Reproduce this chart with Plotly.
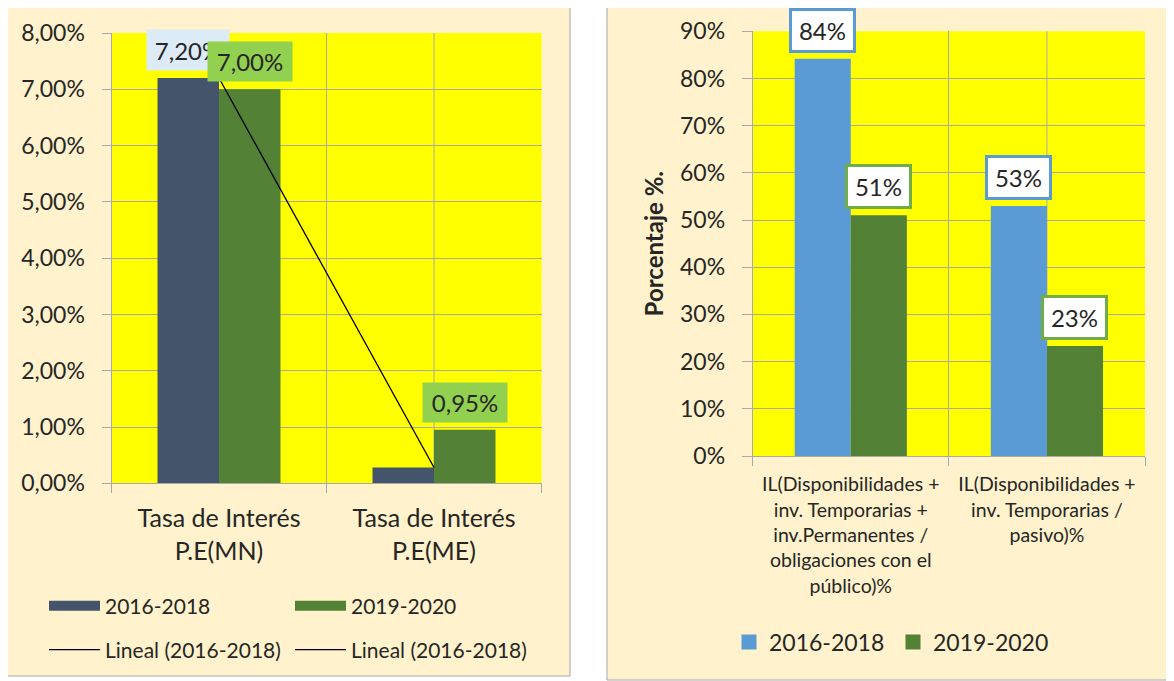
import plotly.graph_objects as go

# ---------------- Data ----------------
# Left chart
left_categories = ["Tasa de Interés<br>P.E(MN)", "Tasa de Interés<br>P.E(ME)"]
left_series_names = ["2016-2018", "2019-2020"]
left_2016_2018 = [0.0720, 0.0028]
left_2019_2020 = [0.0700, 0.0095]
trend_name = "Lineal (2016-2018)"
left_yticks = [0.00, 0.01, 0.02, 0.03, 0.04, 0.05, 0.06, 0.07, 0.08]

# Right chart
right_categories = [
    "IL(Disponibilidades +<br>inv. Temporarias +<br>inv.Permanentes /<br>obligaciones con el<br>público)%",
    "IL(Disponibilidades +<br>inv. Temporarias /<br>pasivo)%",
]
right_series_names = ["2016-2018", "2019-2020"]
right_2016_2018 = [0.842, 0.530]
right_2019_2020 = [0.510, 0.233]
right_yticks = [0.0, 0.1, 0.2, 0.3, 0.4, 0.5, 0.6, 0.7, 0.8, 0.9]
right_ytitle = "Porcentaje %."

# ---------------- Style ----------------
# page body has an 8px margin: the figure is drawn 8px in and sized to fit
OFF = 8
W, H = 1174 - OFF, 681 - OFF
FONT = "Lato, Carlito, Calibri, 'Open Sans', sans-serif"
TXT = "#262626"
GRID = "#A9A9A9"
C_DARK = "#44546A"
C_GREEN = "#538135"
C_BLUE = "#5B9BD5"
C_LGREEN = "#70AD47"
PANEL = "#FFF2CC"


def fx(p):
    return (p - OFF) / W


def fy(p):
    return 1 - (p - OFF) / H


left_idx = list(range(len(left_categories)))
right_idx = list(range(len(right_categories)))
BW = 0.286  # bar width as fraction of category

fig = go.Figure()

# Left bars
fig.add_trace(go.Bar(x=left_idx, y=left_2016_2018, width=BW, offset=-BW,
                     marker=dict(color=C_DARK, line=dict(width=0)),
                     name=left_series_names[0], showlegend=False,
                     xaxis="x", yaxis="y", hoverinfo="skip"))
fig.add_trace(go.Bar(x=left_idx, y=left_2019_2020, width=BW, offset=0,
                     marker=dict(color=C_GREEN, line=dict(width=0)),
                     name=left_series_names[1], showlegend=False,
                     xaxis="x", yaxis="y", hoverinfo="skip"))
# Trend line (linear trend through the 2016-2018 series)
fig.add_trace(go.Scatter(x=left_idx, y=left_2016_2018, mode="lines",
                         line=dict(color="black", width=1.3),
                         name=trend_name, showlegend=False,
                         xaxis="x", yaxis="y", hoverinfo="skip"))

# Left legend entries (wide swatches like the original)
for nm, col in zip(left_series_names, [C_DARK, C_GREEN]):
    fig.add_trace(go.Scatter(x=[None], y=[None], mode="lines", name=nm,
                             line=dict(color=col, width=12), legend="legend",
                             xaxis="x", yaxis="y", hoverinfo="skip"))
for _ in range(2):
    fig.add_trace(go.Scatter(x=[None], y=[None], mode="lines", name=trend_name,
                             line=dict(color="black", width=1.3), legend="legend2",
                             xaxis="x", yaxis="y", hoverinfo="skip"))

# Right bars
fig.add_trace(go.Bar(x=right_idx, y=right_2016_2018, width=BW, offset=-BW,
                     marker=dict(color=C_BLUE, line=dict(width=0)),
                     name=right_series_names[0], showlegend=False,
                     xaxis="x2", yaxis="y2", hoverinfo="skip"))
fig.add_trace(go.Bar(x=right_idx, y=right_2019_2020, width=BW, offset=0,
                     marker=dict(color=C_GREEN, line=dict(width=0)),
                     name=right_series_names[1], showlegend=False,
                     xaxis="x2", yaxis="y2", hoverinfo="skip"))
for nm, col in zip(right_series_names, [C_BLUE, C_GREEN]):
    fig.add_trace(go.Scatter(x=[None], y=[None], mode="markers", name=nm,
                             marker=dict(color=col, size=15, symbol="square"),
                             legend="legend3", xaxis="x2", yaxis="y2", hoverinfo="skip"))

annotations = []


def pct2(v):
    return f"{v * 100:.2f}%".replace(".", ",")


def pct0(v):
    return f"{v * 100:.0f}%"


lab_font = dict(family=FONT, size=24, color=TXT)
# Left labels (first 2016-2018 value and all 2019-2020 values carry labels)
annotations.append(dict(x=left_idx[0] - BW / 2, y=left_2016_2018[0], xref="x", yref="y",
                        text=pct2(left_2016_2018[0]), showarrow=False, yanchor="bottom",
                        yshift=7, bgcolor="#DDEBF7", borderpad=4, width=74, height=32,
                        font=lab_font))
for i, v in zip(left_idx, left_2019_2020):
    annotations.append(dict(x=i + BW / 2, y=v, xref="x", yref="y", text=pct2(v),
                            showarrow=False, yanchor="bottom", yshift=7,
                            bgcolor="#92D050", borderpad=4, width=76, height=31,
                            font=lab_font))
# Right labels
for i, v in zip(right_idx, right_2016_2018):
    annotations.append(dict(x=i - BW / 2, y=v, xref="x2", yref="y2", text=pct0(v),
                            showarrow=False, yanchor="bottom", yshift=6,
                            bgcolor="white", bordercolor=C_BLUE, borderwidth=3, borderpad=4,
                            width=53, height=31, font=lab_font))
for i, v in zip(right_idx, right_2019_2020):
    annotations.append(dict(x=i + BW / 2, y=v, xref="x2", yref="y2", text=pct0(v),
                            showarrow=False, yanchor="bottom", yshift=6,
                            bgcolor="white", bordercolor=C_LGREEN, borderwidth=3, borderpad=4,
                            width=53, height=31, font=lab_font))

shapes = [
    # panel backgrounds
    dict(type="rect", xref="paper", yref="paper", x0=fx(4), x1=fx(570), y0=fy(676), y1=fy(5),
         fillcolor=PANEL, line=dict(color="#A6A6A6", width=1), layer="below"),
    dict(type="rect", xref="paper", yref="paper", x0=fx(607), x1=fx(1180), y0=fy(680), y1=fy(2),
         fillcolor=PANEL, line=dict(color="#A6A6A6", width=1), layer="below"),
    # plot-area fills
    dict(type="rect", xref="x domain", yref="y domain", x0=0, x1=1, y0=0, y1=1,
         fillcolor="#FFFF00", line=dict(width=0), layer="below"),
    dict(type="rect", xref="x2 domain", yref="y2 domain", x0=0, x1=1, y0=0, y1=1,
         fillcolor="#FFFF00", line=dict(width=0), layer="below"),
    # extra vertical gridline at the centre of the second category
    dict(type="line", xref="x", yref="y domain", x0=1, x1=1, y0=0, y1=1,
         line=dict(color=GRID, width=1), layer="below"),
    dict(type="line", xref="x2", yref="y2 domain", x0=1, x1=1, y0=0, y1=1,
         line=dict(color=GRID, width=1), layer="below"),
]

axis_common = dict(showline=True, linecolor=GRID, linewidth=1, zeroline=False,
                   fixedrange=True, automargin=False)
minor_x = dict(tickvals=[-0.5, 0.5, 1.5], ticks="outside", ticklen=9,
               tickcolor=GRID, showgrid=True, gridcolor=GRID, gridwidth=1)

fig.update_layout(
    width=W, height=H,
    margin=dict(l=0, r=0, t=0, b=0),
    paper_bgcolor="white",
    plot_bgcolor="#FFFF00",
    separators=",.",
    barmode="overlay",
    font=dict(family=FONT, color=TXT, size=20),
    xaxis=dict(domain=[fx(111.5), fx(541.5)], range=[-0.5, 1.5], anchor="y",
               tickvals=left_idx, ticktext=left_categories, ticks="", showgrid=False,
               tickfont=dict(size=25), ticklabelstandoff=13, minor=minor_x,
               **axis_common),
    yaxis=dict(domain=[fy(483.3), fy(33)], range=[0, 0.08], anchor="x",
               tickvals=left_yticks, tickformat=".2%", showgrid=True, gridcolor=GRID,
               ticks="outside", ticklen=9, tickcolor=GRID, tickfont=dict(size=23),
               ticklabelstandoff=12, **axis_common),
    xaxis2=dict(domain=[fx(752.7), fx(1145)], range=[-0.5, 1.5], anchor="y2",
                tickvals=right_idx, ticktext=right_categories, ticks="", showgrid=False,
                tickfont=dict(size=19.5), ticklabelstandoff=11, minor=minor_x,
                **axis_common),
    yaxis2=dict(domain=[fy(456), fy(31.3)], range=[0, 0.9], anchor="x2",
                tickvals=right_yticks, tickformat=".0%", showgrid=True, gridcolor=GRID,
                ticks="outside", ticklen=10, tickcolor=GRID, tickfont=dict(size=23),
                ticklabelstandoff=12,
                title=dict(text=right_ytitle, font=dict(size=24, family=FONT, weight="bold"),
                           standoff=9),
                **axis_common),
    legend=dict(orientation="h", x=fx(44), y=fy(606), xanchor="left", yanchor="middle",
                entrywidth=180, entrywidthmode="pixels", itemwidth=51,
                bgcolor="rgba(0,0,0,0)", font=dict(size=21), traceorder="normal"),
    legend2=dict(orientation="h", x=fx(44), y=fy(650), xanchor="left", yanchor="middle",
                 entrywidth=180, entrywidthmode="pixels", itemwidth=51,
                 bgcolor="rgba(0,0,0,0)", font=dict(size=21), traceorder="normal"),
    legend3=dict(orientation="h", x=fx(729), y=fy(642), xanchor="left", yanchor="middle",
                 entrywidth=119, entrywidthmode="pixels",
                 bgcolor="rgba(0,0,0,0)", font=dict(size=23), traceorder="normal"),
    annotations=annotations,
    shapes=shapes,
    showlegend=True,
)

fig.write_html("out.html")
